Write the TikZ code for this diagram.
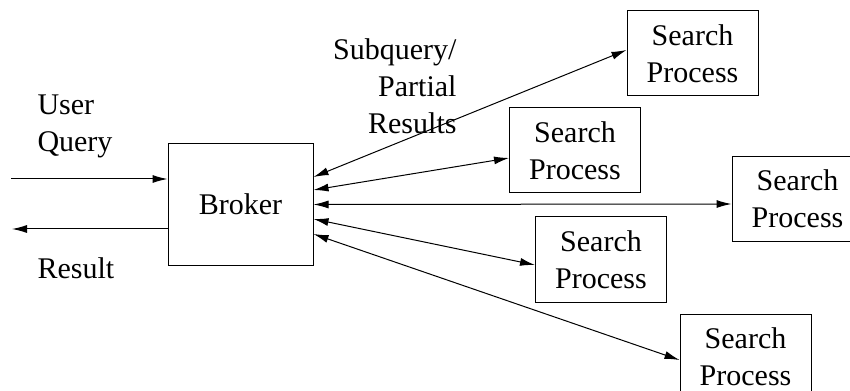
\documentclass[tikz,border=0pt]{standalone}
\usepackage{fontspec}
\setmainfont{Liberation Serif}
\usetikzlibrary{
  arrows.meta, % for the Latex arrow tips
  positioning, % for relative positioning
}
\tikzset{
  proc/.style={ % style for each search process
    rectangle,draw,thin, % drawn as a thin rectangle
    inner sep=0pt, % no padding, the size is fixed below
    minimum width=52.4pt, % every box the same width
    minimum height=34pt, % and the same height
    align=center,
    font=\fontsize{12}{14.8}\selectfont,
  },
  broker/.style={ % style for the broker
    proc, % inherit the process style
    minimum width=58pt,
    minimum height=48.4pt,
  },
  lbl/.style={ % style for the free labels
    inner sep=0pt,
    font=\fontsize{12}{14.8}\selectfont,
  },
  conn/.style={ % style for the one-way connections
    -{Latex[length=6pt,width=3.2pt]},
    thin,
  },
  duplex/.style={ % style for the two-way connections
    {Latex[length=6pt,width=3.2pt]}-{Latex[length=6pt,width=3.2pt]},
    thin,
  },
}
\begin{document}
\begin{tikzpicture}[x=0.4pt,y=-0.4pt]
	\useasboundingbox (0,0) rectangle (850,391);
	
	\node (br) [broker] at (240.5,204.5) {Broker};
	
	\node (sp1) [proc] at (692.5,53.5) {Search\\Process};
	\node (sp2) [proc] at (575,150.5) {Search\\Process};
	\node (sp3) [proc] at (797.5,199) {Search\\Process};
	\node (sp4) [proc] at (601,259.5) {Search\\Process};
	\node (sp5) [proc] at (745.5,356.5) {Search\\Process};
	
	\coordinate (qin) at (11,179);
	\coordinate (rout) at (12,229);
	
	\node (uq) [lbl,align=left,anchor=west] at (37,126.5) {User\\Query};
	\node (res) [lbl,anchor=west] at (37,268) {Result};
	\node (sub) [lbl,align=right,anchor=east] at (457,86) {Subquery/\\Partial\\Results};
	
	\draw[conn] (qin) -- (qin -| br.west);
	\draw[conn] (rout -| br.west) -- (rout);
	
	\draw[duplex] ([yshift=11pt]br.east) -- ([yshift=1.4pt]sp1.west);
	\draw[duplex] ([yshift=5.8pt]br.east) -- ([yshift=-3pt]sp2.west);
	\draw[duplex] (br.east) -- ([yshift=-2pt]sp3.west);
	\draw[duplex] ([yshift=-5.8pt]br.east) -- ([yshift=-2.2pt]sp4.west);
	\draw[duplex] ([yshift=-11.8pt]br.east) -- ([yshift=-1.4pt]sp5.west);
\end{tikzpicture}
\end{document}
